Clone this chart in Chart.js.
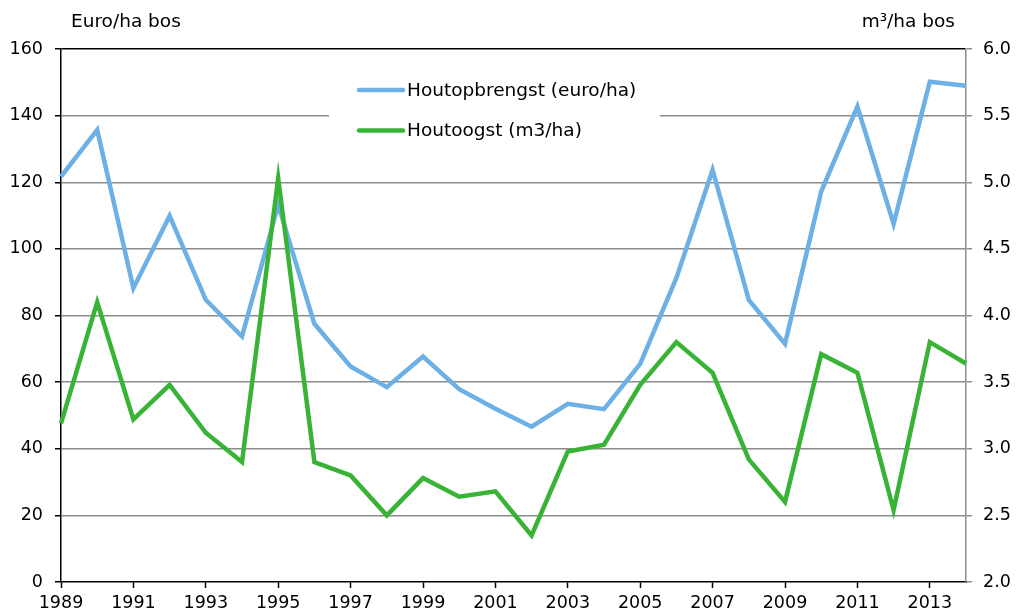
<!DOCTYPE html>
<html lang="nl">
<head>
    <meta charset="utf-8" />
    <title>Houtopbrengst en houtoogst</title>
    <script src="https://cdn.jsdelivr.net/npm/chart.js"></script>
    <style>
        html, body { margin: 0; padding: 0; background: #fff; }
        #grafiek { display: block; }
    </style>
</head>
<body>
    <canvas id="grafiek" width="1017" height="616"></canvas>

    <script>
        // jaren op de x-as
        const jaren = ['1989', '1990', '1991', '1992', '1993', '1994', '1995', '1996', '1997', '1998',
            '1999', '2000', '2001', '2002', '2003', '2004', '2005', '2006', '2007', '2008',
            '2009', '2010', '2011', '2012', '2013', '2014'];

        // houtopbrengst in euro per ha bos (linker as)
        const houtopbrengst = [121.7, 135.7, 88.2, 109.9, 84.7, 73.7, 113.2, 77.5, 64.7, 58.5,
            67.7, 57.9, 52.0, 46.6, 53.5, 51.9, 65.5, 91.3, 123.7, 84.7,
            71.5, 117.2, 142.7, 107.5, 150.2, 149.0];

        // houtoogst in m3 per ha bos (rechter as)
        const houtoogst = [3.19, 4.10, 3.22, 3.48, 3.12, 2.90, 5.03, 2.90, 2.80, 2.50,
            2.78, 2.64, 2.68, 2.35, 2.98, 3.03, 3.48, 3.80, 3.57, 2.92,
            2.60, 3.71, 3.57, 2.54, 3.80, 3.64];

        const labelLinks = 'Euro/ha bos';
        const labelRechts = 'm\u00b3/ha bos';
        const legendaTeksten = ['Houtopbrengst (euro/ha)', 'Houtoogst (m3/ha)'];

        const blauw = '#6cb0e6';
        const groen = '#38b336';
        const grijs = '#8c8c8c';
        const lettertype = 'Verdana, "DejaVu Sans", sans-serif';

        Chart.defaults.font.family = lettertype;
        Chart.defaults.font.size = 17;
        Chart.defaults.color = '#000';

        // legenda in een wit vlak binnen de grafiek + astitels bovenaan
        const extraTekst = {
            id: 'extraTekst',
            beforeDatasetsDraw(chart) {
                const ctx = chart.ctx;
                ctx.save();
                ctx.fillStyle = '#fff';
                ctx.fillRect(329, 68, 331, 84);

                const kleuren = [blauw, groen];
                const ys = [90, 130.5];
                ctx.lineWidth = 4.5;
                ctx.lineCap = 'round';
                ctx.font = '18.5px ' + lettertype;
                ctx.textBaseline = 'middle';
                ctx.fillStyle = '#000';
                for (let i = 0; i < 2; i++) {
                    ctx.strokeStyle = kleuren[i];
                    ctx.beginPath();
                    ctx.moveTo(359, ys[i]);
                    ctx.lineTo(403, ys[i]);
                    ctx.stroke();
                    ctx.fillText(legendaTeksten[i], 407, ys[i] + 1);
                }
                ctx.restore();
            },
            afterDraw(chart) {
                const ctx = chart.ctx;
                ctx.save();
                ctx.font = '18.5px ' + lettertype;
                ctx.fillStyle = '#000';
                ctx.textBaseline = 'alphabetic';
                ctx.textAlign = 'left';
                ctx.fillText(labelLinks, 71, 27);
                ctx.textAlign = 'right';
                ctx.fillText(labelRechts, 955, 27);
                ctx.restore();
            }
        };

        new Chart(document.getElementById('grafiek'), {
            type: 'line',
            data: {
                labels: jaren,
                datasets: [
                    {
                        label: legendaTeksten[0],
                        data: houtopbrengst,
                        yAxisID: 'y',
                        borderColor: blauw,
                        borderWidth: 4.5,
                        pointRadius: 0,
                        tension: 0,
                        order: 2
                    },
                    {
                        label: legendaTeksten[1],
                        data: houtoogst,
                        yAxisID: 'y1',
                        borderColor: groen,
                        borderWidth: 4.5,
                        pointRadius: 0,
                        tension: 0,
                        order: 1
                    }
                ]
            },
            options: {
                responsive: false,
                animation: false,
                layout: { padding: { top: 49, left: 0, right: 0, bottom: 0 } },
                plugins: {
                    legend: { display: false },
                    tooltip: { enabled: false }
                },
                scales: {
                    x: {
                        offset: false,
                        afterFit(scale) { scale.height = 34; },
                        grid: {
                            drawOnChartArea: false,
                            tickLength: 6,
                            tickColor: (c) => c.index % 2 === 0 ? '#000' : 'rgba(0,0,0,0)',
                            tickWidth: 1.5
                        },
                        border: { color: '#000', width: 1.5 },
                        ticks: {
                            autoSkip: false,
                            maxRotation: 0,
                            padding: 5,
                            font: { size: 17.5 },
                            callback: (v, i) => i % 2 === 0 ? jaren[i] : ''
                        }
                    },
                    y: {
                        position: 'left',
                        min: 0,
                        max: 160,
                        afterFit(scale) { scale.width = 61; },
                        grid: {
                            color: (c) => c.tick.value === 160 ? '#000' : (c.tick.value === 0 ? 'rgba(0,0,0,0)' : grijs),
                            lineWidth: 1.5,
                            tickLength: 6,
                            tickColor: '#000'
                        },
                        border: { color: '#000', width: 1.5 },
                        ticks: { stepSize: 20, padding: 12, font: { size: 17.5 } }
                    },
                    y1: {
                        position: 'right',
                        min: 2,
                        max: 6,
                        afterFit(scale) { scale.width = 51; },
                        grid: {
                            drawOnChartArea: false,
                            tickLength: 6,
                            tickColor: grijs,
                            lineWidth: 1.5
                        },
                        border: { color: grijs, width: 1.5 },
                        ticks: {
                            stepSize: 0.5,
                            padding: 11,
                            font: { size: 17.5 },
                            callback: (v) => v.toFixed(1)
                        }
                    }
                }
            },
            plugins: [extraTekst]
        });
    </script>
</body>
</html>
